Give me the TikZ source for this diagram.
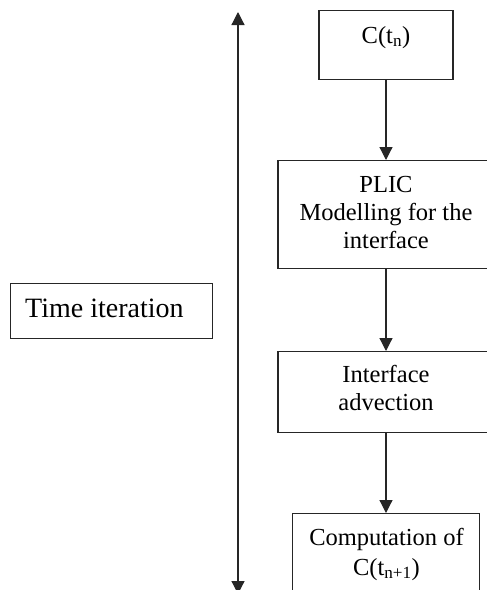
\documentclass[tikz,border=0pt]{standalone}
\usepackage{fontspec}
\setmainfont{Liberation Serif}
\usetikzlibrary{arrows.meta}
\begin{document}
\begin{tikzpicture}[x=1pt,y=-1pt,
  box/.style={draw=black!85, line width=1.2pt, inner sep=0pt, align=center, font=\fontsize{24.5pt}{28.5pt}\selectfont},
  txt/.style={inner sep=0pt, font=\fontsize{24.5pt}{28.5pt}\selectfont},
  conn/.style={draw=black!85, line width=1.2pt, -{Triangle[width=13pt,length=13pt]}}]
\useasboundingbox (0,0) rectangle (487,590);
\clip (0,0) rectangle (487,590);
% boxes
\node[box, minimum width=134pt, minimum height=69pt, anchor=north] (c) at (386,10) {};
\node[txt, anchor=base] (ctxt) at (386,43) {C(t\textsubscript{n})};
\node[box, minimum width=216pt, minimum height=108pt, anchor=north] (plic) at (386,160) {};
\node[txt, anchor=base] (plic1) at (386,192) {PLIC};
\node[txt, anchor=base] (plic2) at (386,220) {Modelling for the};
\node[txt, anchor=base] (plic3) at (386,248) {interface};
\node[box, minimum width=216pt, minimum height=81pt, anchor=north] (adv) at (386,351) {};
\node[txt, anchor=base] (adv1) at (386,382) {Interface};
\node[txt, anchor=base] (adv2) at (386,410) {advection};
\node[box, minimum width=187pt, minimum height=90pt, anchor=north] (comp) at (386,513) {};
\node[txt, anchor=base] (comptxt1) at (386.5,545) {Computation of};
\node[txt, anchor=base] (comptxt2) at (386.5,575) {C(t\textsubscript{n+1})};
\node[box, minimum width=202pt, minimum height=55pt, anchor=north west] (time) at (10,283) {};
\node[txt, anchor=base west, font=\fontsize{28pt}{32pt}\selectfont] (timetxt) at (25,317) {Time iteration};
% connectors
\draw[conn] (c.south) -- (plic.north);
\draw[conn] (plic.south) -- (adv.north);
\draw[conn] (adv.south) -- (comp.north);
% time axis
\coordinate (ttop) at (238,12);
\coordinate (tbot) at (238,594);
\draw[draw=black!85, line width=1.2pt, {Triangle[width=13pt,length=13pt]}-{Triangle[width=13pt,length=13pt]}] (tbot) -- (ttop);
\end{tikzpicture}
\end{document}
